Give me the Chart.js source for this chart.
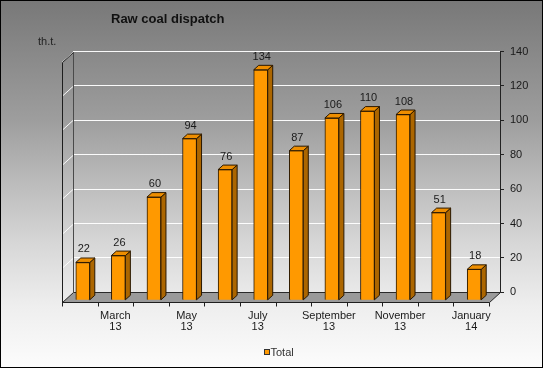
<!DOCTYPE html>
<html><head><meta charset="utf-8">
<script src="https://cdn.jsdelivr.net/npm/chart.js@4/dist/chart.umd.min.js"></script>
<style>html,body{margin:0;padding:0;background:#fff;overflow:hidden}canvas{display:block}</style>
</head><body>
<canvas id="c" width="543" height="368"></canvas>
<script>
const chartTitle = 'Raw coal dispatch';
const unitLabel = 'th.t.';
const seriesName = 'Total';
const categories = ['February 13','March 13','April 13','May 13','June 13','July 13','August 13','September 13','October 13','November 13','December 13','January 14'];
const values = [22, 26, 60, 94, 76, 134, 87, 106, 110, 108, 51, 18];
const yMin = 0, yMax = 140, yStep = 20;

const FONT = '"Liberation Sans", Arial, sans-serif';
const FLOOR = {dx: -11, dy: 10};
const BAR_SHIFT = {dx: -8, dy: 8};
const DEPTH = {dx: 5, dy: -4.5};
const FRONT = '#FF9900', TOP = '#EE8E00', SIDE = '#AC6600', EDGE = '#2a1800';

const threeD = {
  id: 'threeD',
  beforeDraw(chart) {
    const {ctx, width, height} = chart;
    const g = ctx.createLinearGradient(0, 0, 0, height);
    g.addColorStop(0, '#787878');
    g.addColorStop(0.33, '#9e9e9e');
    g.addColorStop(0.5, '#bcbcbc');
    g.addColorStop(0.67, '#d8d8d8');
    g.addColorStop(0.83, '#eeeeee');
    g.addColorStop(1, '#fcfcfc');
    ctx.save();
    ctx.fillStyle = g;
    ctx.fillRect(0, 0, width, height);
    ctx.restore();
  },
  beforeDatasetsDraw(chart) {
    const {ctx, chartArea: a, scales: {y}} = chart;
    ctx.save();
    ctx.strokeStyle = 'rgba(255,255,255,0.95)';
    ctx.lineWidth = 1;
    for (let v = yMin + yStep; v <= yMax; v += yStep) {
      const py = Math.round(y.getPixelForValue(v)) + 0.5;
      ctx.beginPath();
      ctx.moveTo(a.left, py);
      ctx.lineTo(a.left + FLOOR.dx, py + FLOOR.dy);
      ctx.stroke();
    }
    const top = Math.round(y.getPixelForValue(yMax)) + 0.5;
    const bot = Math.round(y.getPixelForValue(yMin)) + 0.5;
    ctx.strokeStyle = '#4a4a4a';
    ctx.beginPath();
    ctx.moveTo(a.left + 0.5, top); ctx.lineTo(a.left + 0.5, bot);
    ctx.stroke();
    ctx.strokeStyle = '#1e1e1e';
    ctx.beginPath();
    ctx.moveTo(a.left + 0.5, top);
    ctx.lineTo(a.left + FLOOR.dx + 0.5, top + FLOOR.dy);
    ctx.lineTo(a.left + FLOOR.dx + 0.5, bot + FLOOR.dy);
    ctx.stroke();
    ctx.beginPath();
    ctx.moveTo(a.left + 0.5, bot);
    ctx.lineTo(a.right + 0.5, bot);
    ctx.lineTo(a.right + FLOOR.dx + 0.5, bot + FLOOR.dy);
    ctx.lineTo(a.left + FLOOR.dx + 0.5, bot + FLOOR.dy);
    ctx.closePath();
    ctx.fillStyle = '#9a9a9a';
    ctx.fill();
    ctx.strokeStyle = '#2a2a2a';
    ctx.stroke();
    ctx.restore();
    ctx.save();
    ctx.translate(BAR_SHIFT.dx, BAR_SHIFT.dy);
  },
  afterDatasetsDraw(chart) {
    const {ctx} = chart;
    const meta = chart.getDatasetMeta(0);
    ctx.lineWidth = 1;
    ctx.strokeStyle = EDGE;
    meta.data.forEach((bar, i) => {
      const p = bar.getProps(['x', 'y', 'base', 'width'], true);
      const l = p.x - p.width / 2, r = p.x + p.width / 2;
      ctx.beginPath();
      ctx.moveTo(r, p.y); ctx.lineTo(r + DEPTH.dx, p.y + DEPTH.dy);
      ctx.lineTo(r + DEPTH.dx, p.base + DEPTH.dy); ctx.lineTo(r, p.base);
      ctx.closePath();
      ctx.fillStyle = SIDE; ctx.fill(); ctx.stroke();
      ctx.beginPath();
      ctx.moveTo(l, p.y); ctx.lineTo(l + DEPTH.dx, p.y + DEPTH.dy);
      ctx.lineTo(r + DEPTH.dx, p.y + DEPTH.dy); ctx.lineTo(r, p.y);
      ctx.closePath();
      ctx.fillStyle = TOP; ctx.fill(); ctx.stroke();
      ctx.fillStyle = '#1a1a1a';
      ctx.font = '11px ' + FONT;
      ctx.textAlign = 'center';
      ctx.textBaseline = 'middle';
      ctx.fillText(String(values[i]), p.x + 1, p.y - 13);
    });
    ctx.restore();
  },
  afterDraw(chart) {
    const {ctx, chartArea: a, scales: {x, y}, width, height} = chart;
    ctx.save();
    const fy = Math.round(y.getPixelForValue(yMin)) + FLOOR.dy + 0.5;
    ctx.strokeStyle = '#1e1e1e';
    ctx.lineWidth = 1;
    ctx.beginPath();
    ctx.moveTo(a.left + FLOOR.dx, fy); ctx.lineTo(a.right + FLOOR.dx, fy);
    for (let i = 0; i <= categories.length; i++) {
      const px = Math.round(x.getPixelForValue(i - 0.5) + FLOOR.dx) + 0.5;
      ctx.moveTo(px, fy); ctx.lineTo(px, fy + 4);
    }
    ctx.stroke();
    ctx.fillStyle = '#111';
    ctx.font = 'bold 13px ' + FONT;
    ctx.textAlign = 'left';
    ctx.textBaseline = 'middle';
    ctx.fillText(chartTitle, 111, 19);
    ctx.font = '11px ' + FONT;
    ctx.fillStyle = '#222';
    ctx.fillText(unitLabel, 38, 42);
    ctx.fillStyle = FRONT;
    ctx.fillRect(264.5, 349.5, 5, 5);
    ctx.strokeStyle = '#333';
    ctx.strokeRect(264.5, 349.5, 5, 5);
    ctx.fillStyle = '#333';
    ctx.fillText(seriesName, 270.5, 352.5);
    ctx.strokeStyle = '#000';
    ctx.strokeRect(0.5, 0.5, width - 1, height - 1);
    ctx.restore();
  }
};

new Chart(document.getElementById('c'), {
  type: 'bar',
  data: {
    labels: categories,
    datasets: [{
      label: seriesName,
      data: values,
      backgroundColor: FRONT,
      borderColor: EDGE,
      borderWidth: 1,
      barThickness: 14
    }]
  },
  options: {
    responsive: false,
    animation: false,
    events: [],
    layout: {padding: {left: 73, right: 0, top: 51.5, bottom: 0}},
    plugins: {legend: {display: false}, title: {display: false}, tooltip: {enabled: false}},
    scales: {
      x: {
        grid: {display: false, drawTicks: false},
        border: {display: false},
        ticks: {
          autoSkip: false, maxRotation: 0, minRotation: 0,
          labelOffset: FLOOR.dx, padding: 17.5,
          color: '#1a1a1a',
          font: {family: FONT, size: 11, lineHeight: 1.05},
          callback: (v, i) => i % 2 === 1 ? categories[i].split(' ') : ''
        },
        afterFit: s => { s.height = 368 - 292.3; }
      },
      y: {
        position: 'right',
        min: yMin, max: yMax,
        grid: {color: 'rgba(255,255,255,0.95)', tickColor: '#222', tickLength: 4, lineWidth: 1},
        border: {display: true, color: '#222', width: 1},
        ticks: {stepSize: yStep, padding: 6, color: '#1a1a1a', font: {family: FONT, size: 11}},
        afterFit: s => { s.width = 43; }
      }
    }
  },
  plugins: [threeD]
});
</script>
</body></html>
